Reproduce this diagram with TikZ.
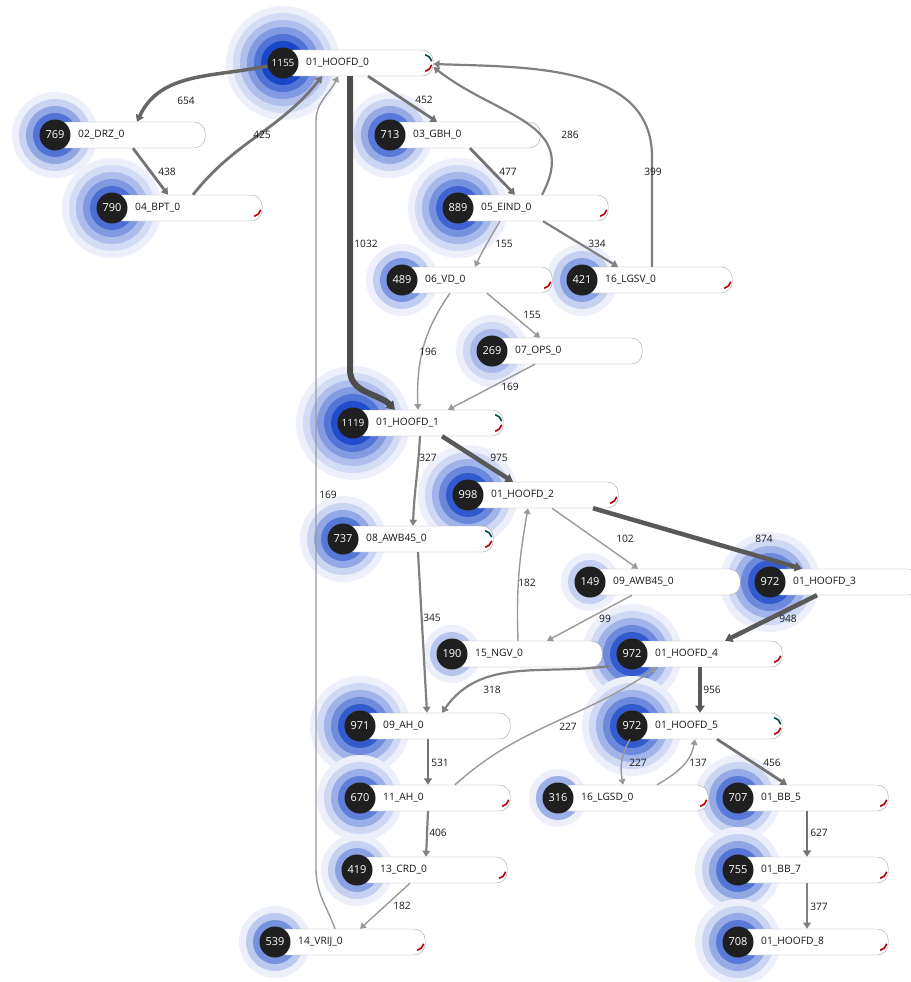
\documentclass[tikz,border=0pt]{standalone}
\usepackage{fontspec}
\setmainfont{Open Sans}
\usetikzlibrary{arrows.meta}
\definecolor{haloblue}{HTML}{1A47C8}
\pgfdeclarelayer{halo}
\pgfsetlayers{halo,main}
\begin{document}
\begin{tikzpicture}[x=1pt, y=-1pt,
  box/.style={draw=black!35, fill=white, rounded corners=11pt, anchor=west, minimum height=26pt,
    text width=104pt, inner xsep=23pt, inner ysep=0pt, align=left, font=\fontsize{10.2}{12}\selectfont, text=black!92},
  count/.style={circle, fill=black!88, text=white, minimum size=31pt, inner sep=0pt, font=\fontsize{11}{12}\selectfont},
  lbl/.style={font=\fontsize{10.2}{12}\selectfont, text=black!90, inner sep=1pt},
  redmark/.style={draw=red!70!black, line width=1.6pt},
  tealmark/.style={draw=teal!60!black, line width=1.6pt},
  flow/.style={-{Triangle[length=5pt 0.5, width=6pt 0.7]}},
  f6/.style={flow, line width=6pt, draw=black!70},
  f5/.style={flow, line width=4.5pt, draw=black!65},
  f4/.style={flow, line width=3.5pt, draw=black!60},
  f3/.style={flow, line width=2.8pt, draw=black!55},
  f2/.style={flow, line width=2.2pt, draw=black!50},
  f1/.style={flow, line width=1.4pt, draw=black!40}]
  \useasboundingbox (0,0) rectangle (910,982);
  % stations: name/x/y/count/label/rings/marks
  \foreach \n/\x/\y/\cnt/\lab/\nr/\mk in {
    h0/283/63/1155/01\_HOOFD\_0/6/2, drz/55/135/769/02\_DRZ\_0/4/0,
    bpt/112/208/790/04\_BPT\_0/5/1, gbh/390/135/713/03\_GBH\_0/4/0,
    eind/458/208/889/05\_EIND\_0/5/1, vd/402/280/489/06\_VD\_0/3/1,
    lgsv/582/280/421/16\_LGSV\_0/3/1, ops/492/351/269/07\_OPS\_0/3/0,
    h1/353/423/1119/01\_HOOFD\_1/6/2, h2/468/495/998/01\_HOOFD\_2/5/1,
    awba/343/539/737/08\_AWB45\_0/4/2, awbb/590/582/149/09\_AWB45\_0/2/0,
    h3/770/582/972/01\_HOOFD\_3/5/0, ngv/452/654/190/15\_NGV\_0/2/0,
    h4/632/654/972/01\_HOOFD\_4/5/1, ah9/360/726/971/09\_AH\_0/5/0,
    h5/632/726/972/01\_HOOFD\_5/5/2, ah11/360/798/670/11\_AH\_0/4/1,
    lgsd/558/798/316/16\_LGSD\_0/2/1, bb5/738/798/707/01\_BB\_5/4/1,
    crd/357/870/419/13\_CRD\_0/3/1, bb7/738/870/755/01\_BB\_7/4/1,
    vrij/275/942/539/14\_VRIJ\_0/3/1, h8/738/942/708/01\_HOOFD\_8/4/1}{
    \begin{pgfonlayer}{halo}
      \pgfmathsetmacro\mx{100*pow(\cnt/1155,0.65)}
      \foreach \k in {1,...,\nr}{
        \pgfmathsetmacro\rr{15+7*(\nr-\k+1)}
        \pgfmathtruncatemacro\pc{8+(\mx-8)*pow((\k-1)/(\nr-1),1.3)}
        \fill[haloblue!\pc!white] (\x,\y) circle[radius=\rr pt];
      }
    \end{pgfonlayer}
    \node[box] (\n) at (\x,\y) {\lab};
    \node[count] (\n-c) at (\x,\y) {\ifnum\cnt>999\fontsize{10}{11}\selectfont\fi\cnt};
    \ifnum\mk>0 \draw[redmark] ([xshift=-10pt]\n.east) ++(-12:8.5pt) arc[start angle=-12, end angle=-78, radius=8.5pt]; \fi
    \ifnum\mk>1 \draw[tealmark] ([xshift=-10pt]\n.east) ++(12:8.5pt) arc[start angle=12, end angle=78, radius=8.5pt]; \fi
  }
  % connectors
  \draw[f4] ([yshift=-3pt]h0-c.west) to[out=192,in=65] ([xshift=82pt]drz.north west);
  \draw[f3] ([xshift=78pt]drz.south west) -- ([xshift=56pt]bpt.north west);
  \draw[f3] ([xshift=81pt]bpt.north west) to[out=52,in=232] ([xshift=39pt]h0.south west);
  \draw[f3] ([xshift=85pt]h0.south west) -- ([xshift=47pt]gbh.north west);
  \draw[f3] ([xshift=80pt]gbh.south west) -- ([xshift=57pt]eind.north west);
  \draw[f2] ([xshift=84pt]eind.north west) to[out=62,in=-38,looseness=1.25] ([yshift=-4pt]h0.east);
  \draw[f2] ([xshift=70pt]lgsv.north west) -- ([xshift=70pt,yshift=110pt]lgsv.north west) to[out=90,in=-2] ([yshift=-1pt]h0.east);
  \draw[f1] ([xshift=42pt]eind.south west) to[out=240,in=65] ([xshift=73pt]vd.north west);
  \draw[f2] ([xshift=85pt]eind.south west) -- ([xshift=36pt]lgsv.north west);
  \draw[f6] ([xshift=67pt]h0.south west) -- ([xshift=-3pt,yshift=40pt]h1.north west) to[out=-90,in=135] ([xshift=42pt]h1.north west);
  \draw[f1] ([xshift=48pt]vd.south west) to[out=235,in=92] ([xshift=65pt]h1.north west);
  \draw[f1] ([xshift=85pt]vd.south west) -- ([xshift=48pt]ops.north west);
  \draw[f1] ([xshift=43pt]ops.south west) -- ([xshift=95pt]h1.north west);
  \draw[f5] ([xshift=89pt]h1.south west) -- ([xshift=45pt]h2.north west);
  \draw[f2] ([xshift=67pt]h1.south west) to[out=-93,in=88] ([xshift=70pt]awba.north west);
  \draw[f5] ([xshift=125pt]h2.south west) -- ([xshift=32pt]h3.north west);
  \draw[f1] ([xshift=84pt]h2.south west) -- ([xshift=48pt]awbb.north west);
  \draw[f1] ([xshift=66pt]ngv.north west) to[out=92,in=-100] ([xshift=60pt]h2.south west);
  \draw[f5] ([xshift=47pt]h3.south west) -- ([xshift=93pt]h4.north west);
  \draw[f1] ([xshift=42pt]awbb.south west) -- ([xshift=95pt]ngv.north west);
  \draw[f2] ([xshift=-22pt,yshift=-12pt]h4.west) to[out=188,in=55] ([xshift=82pt]ah9.north west);
  \draw[f5] ([xshift=68pt]h4.south west) -- ([xshift=68pt]h5.north west);
  \draw[f1] ([xshift=95pt]ah11.north west) to[out=42,in=215] ([xshift=25pt]h4.south west);
  \draw[f1] ([xshift=-2pt]h5.south west) to[out=-120,in=100] ([xshift=65pt]lgsd.north west);
  \draw[f1] ([xshift=99pt]lgsd.north west) to[out=30,in=-100] ([xshift=63pt]h5.south west);
  \draw[f3] ([xshift=85pt]h5.south west) -- ([xshift=49pt]bb5.north west);
  \draw[f3] ([xshift=69pt]bb5.south west) -- ([xshift=69pt]bb7.north west);
  \draw[f2] ([xshift=69pt]bb7.south west) -- ([xshift=69pt]h8.north west);
  \draw[f2] ([xshift=75pt]awba.south west) -- ([xshift=67pt]ah9.north west);
  \draw[f3] ([xshift=68pt]ah9.south west) -- ([xshift=68pt]ah11.north west);
  \draw[f2] ([xshift=68pt]ah11.south west) -- ([xshift=69pt]crd.north west);
  \draw[f1] ([xshift=53pt]crd.south west) -- ([xshift=85pt]vrij.north west);
  \draw[f1] ([xshift=60pt]vrij.north west) to[out=110,in=-90] ([xshift=41pt,yshift=60pt]vrij.north west)
    -- ([xshift=33pt,yshift=-45pt]h0.south west) to[out=90,in=-115] ([xshift=55pt]h0.south west);
  % flow labels
  \node[lbl] (l654) at (186,101) {654};
  \node[lbl] (l438) at (167,172) {438};
  \node[lbl] (l425) at (262,135) {425};
  \node[lbl] (l452) at (424,100) {452};
  \node[lbl] (l477) at (508,172) {477};
  \node[lbl] (l286) at (570,135) {286};
  \node[lbl] (l399) at (653,172) {399};
  \node[lbl] (l155a) at (504,244) {155};
  \node[lbl] (l334) at (597,244) {334};
  \node[lbl] (l1032) at (366,244) {1032};
  \node[lbl] (l196) at (428,352) {196};
  \node[lbl] (l155b) at (532,315) {155};
  \node[lbl] (l169a) at (510,387) {169};
  \node[lbl] (l975) at (499,458) {975};
  \node[lbl] (l327) at (428,458) {327};
  \node[lbl] (l169b) at (328,495) {169};
  \node[lbl] (l874) at (764,539) {874};
  \node[lbl] (l102) at (625,539) {102};
  \node[lbl] (l182a) at (527,583) {182};
  \node[lbl] (l948) at (788,619) {948};
  \node[lbl] (l99) at (605,619) {99};
  \node[lbl] (l345) at (432,618) {345};
  \node[lbl] (l318) at (492,690) {318};
  \node[lbl] (l956) at (712,690) {956};
  \node[lbl] (l227a) at (568,727) {227};
  \node[lbl] (l531) at (440,763) {531};
  \node[lbl] (l227b) at (638,763) {227};
  \node[lbl] (l137) at (698,763) {137};
  \node[lbl] (l456) at (772,763) {456};
  \node[lbl] (l627) at (819,833) {627};
  \node[lbl] (l406) at (438,833) {406};
  \node[lbl] (l377) at (819,907) {377};
  \node[lbl] (l182b) at (402,906) {182};
\end{tikzpicture}
\end{document}
